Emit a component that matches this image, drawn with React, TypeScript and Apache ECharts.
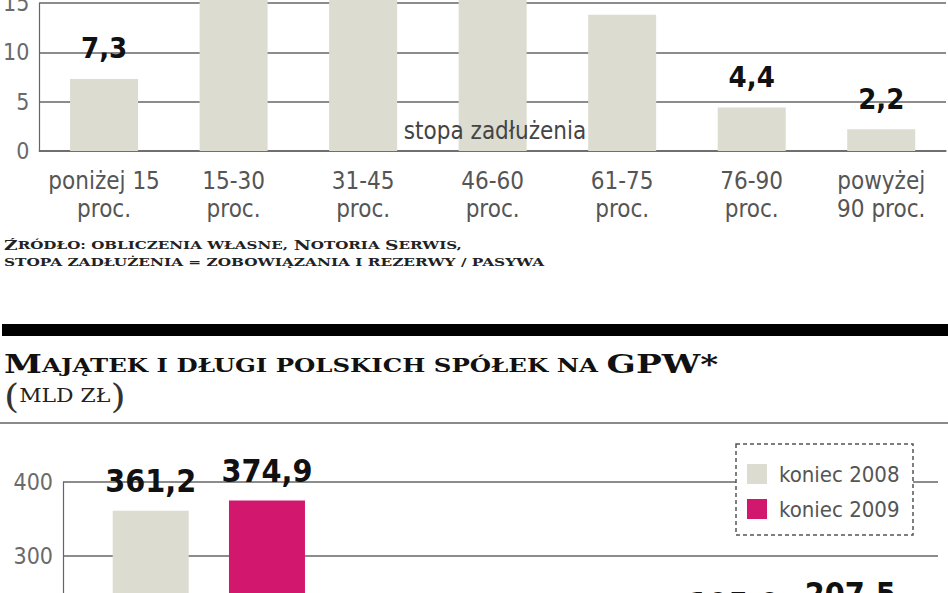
import React, { useEffect, useRef } from 'react';
import * as echarts from 'echarts';

// górny wykres: struktura spółek wg stopy zadłużenia (proc.)
const debtRatioCategories = [
  'poniżej 15\nproc.',
  '15-30\nproc.',
  '31-45\nproc.',
  '46-60\nproc.',
  '61-75\nproc.',
  '76-90\nproc.',
  'powyżej\n90 proc.',
];
const companyShare = [7.3, 21.5, 25.6, 25.2, 13.8, 4.4, 2.2];
const shareTicks = [0, 5, 10, 15];

// dolny wykres: majątek i długi (mld zł)
const balanceCategories = ['majątek', 'długi', 'kapitał własny'];
const end2008 = [361.2, 166.2, 195.0];
const end2009 = [374.9, 167.4, 207.5];
const balanceTicks = [300, 400];
const legendNames = ['koniec 2008', 'koniec 2009'];

const BEIGE = '#dcdcd0';
const MAGENTA = '#d2186e';
const GRID = '#666';
const COND = '"DejaVu Sans Condensed", "Liberation Sans Narrow", sans-serif';
const SERIF = '"DejaVu Serif", serif';

// wykres jest wyższy niż okno i przesunięty w górę - reszta jest przycięta
const OFF = 20;
const Y = (v: number) => v + OFF;

const fmt = (v: number) => v.toFixed(1).replace('.', ',');

const App: React.FC = () => {
  const chartRef = useRef<HTMLDivElement>(null);

  useEffect(() => {
    if (!chartRef.current) return;
    const chart = echarts.init(chartRef.current, undefined, { renderer: 'svg' });

    const axisLabel = {
      fontFamily: COND,
      fontSize: 23,
      color: '#6a6a6a',
      margin: 10,
    };

    const valueLabel = {
      position: 'top',
      fontFamily: COND,
      fontWeight: 'bold',
      color: '#111',
      formatter: (p: any) => fmt(p.value),
    };

    const option = {
      animation: false,
      grid: [
        { left: 36, right: 2, top: Y(3), height: 148 },
        { left: 63, right: 10, top: Y(482), height: 296 },
      ],
      xAxis: [
        {
          type: 'category',
          gridIndex: 0,
          data: debtRatioCategories,
          axisLine: { lineStyle: { color: GRID, width: 1.5 } },
          axisTick: { show: false },
          axisLabel: {
            interval: 0,
            fontFamily: COND,
            fontSize: 24,
            lineHeight: 28,
            color: '#555',
            margin: 16,
          },
        },
        {
          type: 'category',
          gridIndex: 1,
          data: balanceCategories,
          axisLine: { show: false },
          axisTick: { show: false },
          axisLabel: { show: false },
        },
      ],
      yAxis: [
        {
          type: 'value',
          gridIndex: 0,
          min: 0,
          max: 15,
          interval: 5,
          axisLine: { show: true, lineStyle: { color: GRID, width: 1.2 } },
          axisTick: { show: false },
          splitLine: { lineStyle: { color: GRID, width: 1.5 } },
          axisLabel: {
            ...axisLabel,
            formatter: (v: number) => (shareTicks.includes(v) ? String(v) : ''),
          },
        },
        {
          type: 'value',
          gridIndex: 1,
          min: 0,
          max: 400,
          interval: 100,
          axisLine: { show: true, lineStyle: { color: GRID, width: 1.2 } },
          axisTick: { show: false },
          splitLine: { lineStyle: { color: GRID, width: 1.5 } },
          axisLabel: {
            ...axisLabel,
            formatter: (v: number) => (balanceTicks.includes(v) ? String(v) : ''),
          },
        },
      ],
      legend: {
        orient: 'vertical',
        left: 742,
        top: Y(458),
        padding: 5,
        itemWidth: 20,
        itemHeight: 20,
        itemGap: 13,
        icon: 'rect',
        z: 10,
        data: legendNames,
        textStyle: {
          fontFamily: COND,
          fontSize: 22,
          color: '#555',
          padding: [0, 0, 0, 7],
        },
      },
      series: [
        {
          type: 'bar',
          xAxisIndex: 0,
          yAxisIndex: 0,
          barWidth: 68,
          clip: false,
          itemStyle: { color: BEIGE },
          label: { ...valueLabel, distance: 16, fontSize: 29 },
          data: companyShare.map((v) => ({ value: v, label: { show: v < 12 } })),
        },
        {
          name: legendNames[0],
          type: 'bar',
          xAxisIndex: 1,
          yAxisIndex: 1,
          barWidth: 76,
          barGap: '53%',
          itemStyle: { color: BEIGE },
          label: { ...valueLabel, distance: 14, fontSize: 32 },
          data: end2008.map((v) => ({ value: v, label: { show: v > 180 } })),
        },
        {
          name: legendNames[1],
          type: 'bar',
          xAxisIndex: 1,
          yAxisIndex: 1,
          barWidth: 76,
          itemStyle: { color: MAGENTA },
          label: { ...valueLabel, distance: 14, fontSize: 32 },
          data: end2009.map((v) => ({ value: v, label: { show: v > 180 } })),
        },
      ],
      graphic: [
        {
          type: 'text',
          x: 495,
          y: Y(131),
          z: 5,
          style: {
            text: 'stopa zadłużenia',
            fontFamily: COND,
            fontSize: 24,
            fill: '#444',
            align: 'center',
            verticalAlign: 'middle',
          },
        },
        {
          type: 'text',
          x: 4,
          y: Y(252),
          scaleX: 1.44,
          z: 5,
          style: {
            text: '{b|Ź}{s|RÓDŁO: OBLICZENIA WŁASNE, }{b|N}{s|OTORIA }{b|S}{s|ERWIS,}',
            verticalAlign: 'bottom',
            fill: '#222',
            rich: {
              b: { fontFamily: SERIF, fontSize: 13, fontWeight: 'bold', verticalAlign: 'bottom', fill: '#222' },
              s: { fontFamily: SERIF, fontSize: 10.5, fontWeight: 'bold', verticalAlign: 'bottom', fill: '#222', padding: [0, 0, 1, 0] },
            },
          },
        },
        {
          type: 'text',
          x: 4,
          y: Y(268),
          scaleX: 1.46,
          z: 5,
          style: {
            text: 'STOPA ZADŁUŻENIA = ZOBOWIĄZANIA I REZERWY / PASYWA',
            verticalAlign: 'bottom',
            fontFamily: SERIF,
            fontSize: 10.5,
            fontWeight: 'bold',
            fill: '#222',
          },
        },
        {
          type: 'rect',
          z: 5,
          shape: { x: 2, y: Y(324), width: 946, height: 12 },
          style: { fill: '#000' },
        },
        {
          type: 'text',
          x: 4,
          y: Y(377),
          scaleX: 1.32,
          z: 5,
          style: {
            text: '{b|M}{s|AJĄTEK I DŁUGI POLSKICH SPÓŁEK NA }{b|GPW*}',
            verticalAlign: 'bottom',
            fill: '#111',
            rich: {
              b: { fontFamily: SERIF, fontSize: 26, fontWeight: 'bold', verticalAlign: 'bottom', fill: '#111' },
              s: { fontFamily: SERIF, fontSize: 18.5, fontWeight: 'bold', verticalAlign: 'bottom', fill: '#111', padding: [0, 0, 2, 0] },
            },
          },
        },
        {
          type: 'text',
          x: 4,
          y: Y(396),
          scaleX: 1.15,
          z: 5,
          style: {
            text: '{p|(}{s|MLD ZŁ}{p|)}',
            verticalAlign: 'middle',
            fill: '#222',
            rich: {
              p: { fontFamily: SERIF, fontSize: 34, verticalAlign: 'middle', fill: '#333' },
              s: { fontFamily: SERIF, fontSize: 19, verticalAlign: 'middle', fill: '#222' },
            },
          },
        },
        {
          type: 'line',
          z: 5,
          shape: { x1: 0, y1: Y(423), x2: 948, y2: Y(423) },
          style: { stroke: '#8a8a8a', lineWidth: 2 },
        },
        {
          type: 'rect',
          z: 6,
          shape: { x: 736, y: Y(444), width: 177, height: 91 },
          style: { fill: '#fff', stroke: '#555', lineWidth: 1.5, lineDash: [4, 3] },
        },
      ],
    };

    chart.setOption(option as any);

    const handleResize = () => chart.resize();
    window.addEventListener('resize', handleResize);
    return () => {
      window.removeEventListener('resize', handleResize);
      chart.dispose();
    };
  }, []);

  return (
    <div
      style={{
        position: 'absolute',
        top: 0,
        left: 0,
        width: 948,
        height: 593,
        overflow: 'hidden',
        background: '#fff',
      }}
    >
      <div
        ref={chartRef}
        style={{ position: 'absolute', top: -OFF, left: 0, width: 948, height: 820 }}
      />
    </div>
  );
};

export default App;
